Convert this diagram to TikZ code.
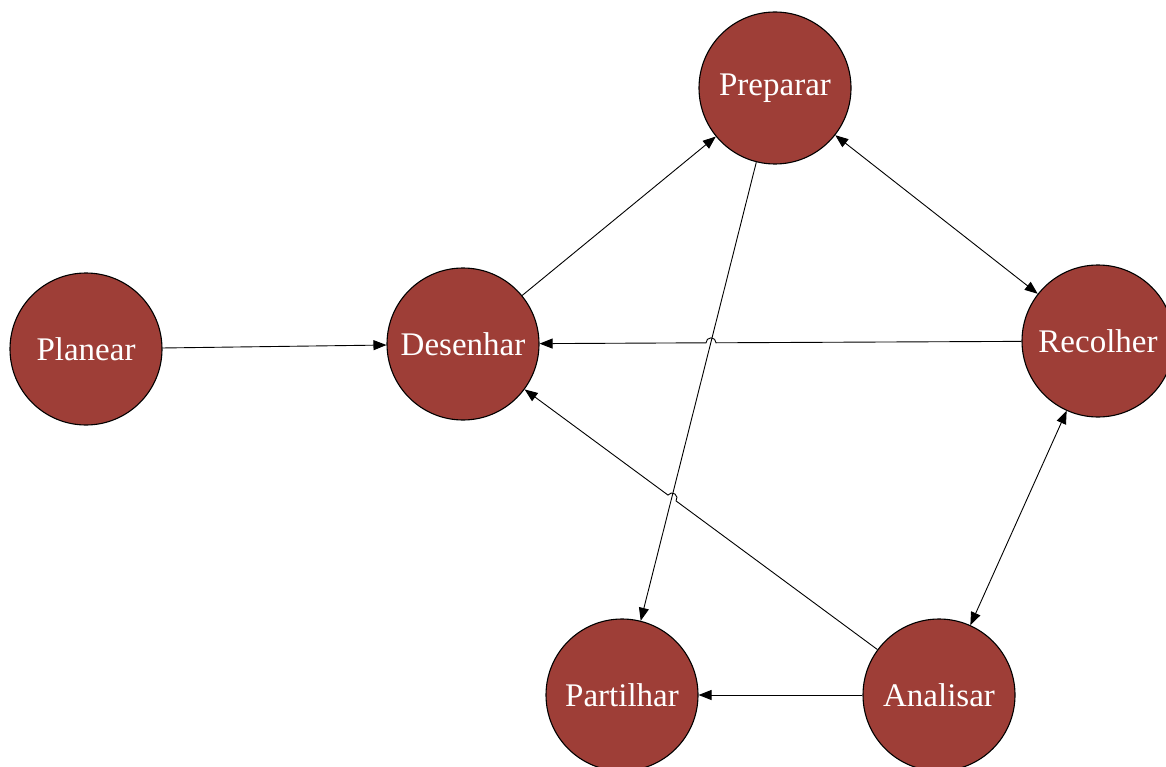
\documentclass[tikz,border=0pt]{standalone}
\usepackage{fontspec}
\setmainfont{Liberation Serif}
\usetikzlibrary{arrows.meta}
\definecolor{nodered}{RGB}{158,62,55}
\begin{document}
\begin{tikzpicture}[x=1pt,y=1pt,
  stage/.style={circle, draw=black, line width=1.1pt, fill=nodered, minimum size=152pt, inner sep=0pt,
    text=white, font=\fontsize{33}{33}\selectfont},
  link/.style={line width=0.9pt, draw=black},
  tip/.style={-{Triangle[length=13pt,width=10pt]}},
  tips/.style={{Triangle[length=13pt,width=10pt]}-{Triangle[length=13pt,width=10pt]}}
]
\useasboundingbox (0,0) rectangle (1166,-767);
\node[stage] (planear) at (86,-349) {Planear};
\node[stage] (desenhar) at (463,-344) {Desenhar};
\node[stage] (preparar) at (775,-88) {Preparar};
\node[stage] (recolher) at (1098,-341) {Recolher};
\node[stage] (partilhar) at (622,-695) {Partilhar};
\node[stage] (analisar) at (939,-695) {Analisar};

\draw[link,tip] (planear) -- (desenhar);
\draw[link,tip] (desenhar) -- (preparar);
\draw[link,tips] (preparar) -- (recolher);
\draw[link,tip] (preparar) -- (partilhar);
\draw[link,tips] (recolher) -- (analisar);
\draw[link,tip] (analisar) -- (partilhar);
\coordinate (hopA) at (716,-342.8);
\draw[link,tip] (recolher) -- (hopA) arc[start angle=0,end angle=180,radius=5] -- (desenhar);
\coordinate (hopB) at (676.04,-500.94);
\draw[link,tip] (analisar) -- (hopB) arc[start angle=-36.06,end angle=143.94,radius=5] -- (desenhar);
\end{tikzpicture}
\end{document}
